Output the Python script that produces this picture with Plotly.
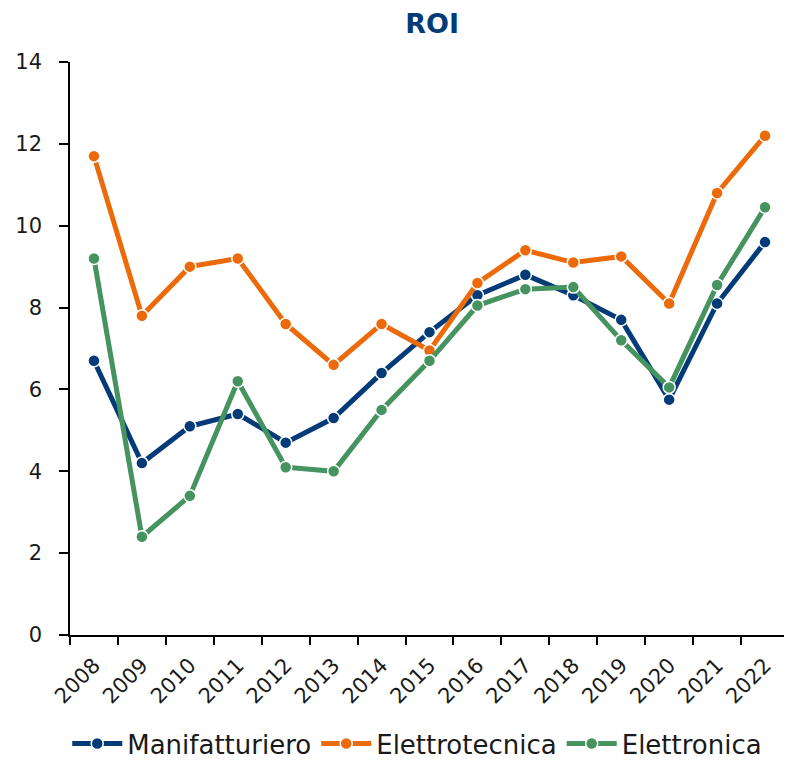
import plotly.graph_objects as go

years = ["2008", "2009", "2010", "2011", "2012", "2013", "2014", "2015",
         "2016", "2017", "2018", "2019", "2020", "2021", "2022"]
manifatturiero = [6.7, 4.2, 5.1, 5.4, 4.7, 5.3, 6.4, 7.4, 8.3, 8.8, 8.3, 7.7, 5.75, 8.1, 9.6]
elettrotecnica = [11.7, 7.8, 9.0, 9.2, 7.6, 6.6, 7.6, 6.95, 8.6, 9.4, 9.1, 9.25, 8.1, 10.8, 12.2]
elettronica = [9.2, 2.4, 3.4, 6.2, 4.1, 4.0, 5.5, 6.7, 8.05, 8.45, 8.5, 7.2, 6.05, 8.55, 10.45]

series = [
    ("Manifatturiero", manifatturiero, "#023B78"),
    ("Elettrotecnica", elettrotecnica, "#EC6A0A"),
    ("Elettronica", elettronica, "#45935F"),
]

FONT = "'DejaVu Sans', sans-serif"

fig = go.Figure()
for name, vals, col in series:
    fig.add_trace(go.Scatter(
        x=years, y=vals, name=name, mode="lines+markers",
        line=dict(color=col, width=5),
        marker=dict(color=col, size=12, line=dict(color="white", width=1.5)),
    ))

# page has an 8px body margin, so the figure is drawn at (8, 8)
fig.update_layout(
    width=784, height=753,
    margin=dict(l=62, r=3, t=54, b=126),
    paper_bgcolor="white", plot_bgcolor="white",
    font=dict(family=FONT, color="#1a1a1a", size=20),
    title=dict(text="<b>ROI</b>", x=0.541, xanchor="center", xref="container",
               y=0.979, yanchor="middle", yref="container",
               font=dict(family=FONT, size=27, color="#023B78")),
    showlegend=True,
    legend=dict(orientation="h", x=0.522, xanchor="center", xref="container",
                y=0.023, yanchor="middle", yref="container",
                font=dict(family=FONT, size=26, color="#1a1a1a"),
                itemwidth=50, traceorder="normal"),
)
fig.update_xaxes(
    type="category", range=[-0.5, len(years) - 0.5], tickson="boundaries",
    showline=True, linecolor="black", linewidth=1.5,
    ticks="outside", ticklen=8, tickcolor="black", tickwidth=1.5, tickangle=-45, showgrid=False,
    automargin=False, ticklabelstandoff=8,
    tickfont=dict(family=FONT, size=21, color="#1a1a1a"),
)
fig.update_yaxes(
    range=[0, 14], dtick=2, showline=True, linecolor="black", linewidth=1.5,
    ticks="outside", ticklen=9, tickcolor="black", tickwidth=1.5, showgrid=False, zeroline=False,
    automargin=False, ticklabelstandoff=13,
    tickfont=dict(family=FONT, size=21, color="#1a1a1a"),
)

fig.write_html("out.html")
